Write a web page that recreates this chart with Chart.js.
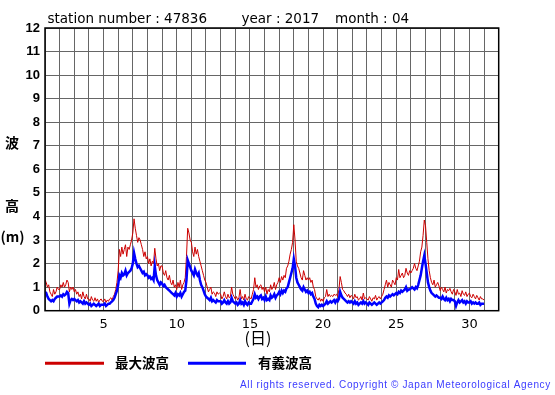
<!DOCTYPE html>
<html>
<head>
<meta charset="utf-8">
<script src="https://cdn.jsdelivr.net/npm/chart.js@4.4.1/dist/chart.umd.min.js"></script>
<style>
html,body{margin:0;padding:0;background:#fff;}
#wrap{width:555px;height:395px;position:relative;}
</style>
</head>
<body>
<div id="wrap"><canvas id="c" width="555" height="395"></canvas></div>
<script>
// Title pieces
const titleParts = ["station number : 47836", "year : 2017", "month : 04"];
// Legend labels
const seriesNames = ["最大波高", "有義波高"];
const yAxisTitle = ["波", "高", "(m)"];
const xAxisTitle = "(日)";
const copyright = "All rights reserved. Copyright © Japan Meteorological Agency";
// x tick labels (day of month) shown
const xTickLabels = [5, 10, 15, 20, 25, 30];
// y ticks
const yTickValues = [0,1,2,3,4,5,6,7,8,9,10,11,12];
// samples per day (2-hourly readings), starting day 1 00h
const samplesPerDay = 12;

// Maximum wave height (m), 2-hourly
const maxWaveHeight = [
 1.3,1.2,1.0,1.1,0.8,0.7,0.6,0.9,0.7,0.8,1.0,0.9,
 0.9,1.1,1.0,1.2,1.0,1.1,1.3,1.2,0.8,1.0,0.9,1.0,
 0.8,0.9,0.7,0.8,0.6,0.7,0.5,0.8,0.6,0.5,0.7,0.5,
 0.5,0.4,0.6,0.45,0.4,0.55,0.4,0.5,0.35,0.45,0.5,0.4,
 0.4,0.5,0.35,0.45,0.4,0.5,0.55,0.45,0.6,0.7,0.9,1.2,
 1.7,2.6,2.3,2.7,2.4,2.6,2.8,2.3,2.7,2.6,2.8,3.0,
 3.3,3.9,3.5,3.2,2.9,3.1,3.0,2.8,2.6,2.3,2.5,2.2,
 2.3,2.0,2.2,1.9,2.1,2.0,2.65,2.2,1.9,2.0,1.7,1.9,
 1.9,1.6,1.5,1.7,1.4,1.3,1.5,1.2,1.1,1.3,1.0,1.1,
 0.9,1.2,1.0,1.3,0.9,1.1,1.2,1.4,2.3,3.5,3.3,3.0,
 2.9,2.5,2.3,2.7,2.4,2.6,2.3,2.1,1.9,1.7,1.5,1.3,
 1.2,1.0,0.8,0.9,1.0,0.7,0.8,0.75,0.6,0.8,0.7,0.75,
 0.7,0.5,0.6,0.8,0.6,0.5,0.7,0.55,0.6,1.0,0.7,0.6,
 0.5,0.6,0.45,0.55,0.9,0.5,0.6,0.45,0.7,0.5,0.45,0.6,
 0.55,0.5,0.7,0.9,1.4,1.0,1.1,0.9,1.05,1.1,0.9,1.0,
 0.8,1.0,0.7,0.9,0.8,1.1,0.9,1.0,1.2,0.9,1.1,1.2,
 1.4,1.2,1.45,1.3,1.5,1.4,1.8,1.9,2.1,2.4,2.6,2.9,
 3.65,3.0,2.1,1.9,1.8,1.6,1.4,1.3,1.7,1.5,1.3,1.4,
 1.3,1.4,1.2,1.3,1.0,0.9,0.6,0.5,0.45,0.55,0.4,0.5,
 0.4,0.55,0.6,0.9,0.6,0.7,0.6,0.65,0.6,0.7,0.65,0.7,
 0.6,0.9,1.45,1.2,0.9,0.85,0.75,0.7,0.6,0.7,0.55,0.65,
 0.6,0.5,0.7,0.55,0.6,0.45,0.5,0.6,0.45,0.75,0.5,0.55,
 0.5,0.45,0.6,0.5,0.4,0.55,0.5,0.65,0.45,0.55,0.6,0.5,
 0.6,0.7,0.9,1.1,1.3,1.0,1.2,1.1,1.0,1.3,1.2,1.1,
 1.4,1.3,1.75,1.4,1.5,1.6,1.4,1.5,1.8,1.6,1.5,1.7,
 1.6,1.7,1.8,2.0,1.8,1.7,1.9,2.1,2.5,2.7,3.2,3.85,
 3.6,2.9,2.2,1.7,1.4,1.2,1.1,1.3,1.0,1.1,1.2,1.05,
 0.85,1.0,0.9,0.8,1.0,0.75,0.9,0.85,0.95,0.8,0.7,0.9,
 0.8,0.65,0.9,0.7,0.75,0.6,0.85,0.7,0.65,0.8,0.6,0.7,
 0.75,0.6,0.55,0.7,0.6,0.5,0.65,0.55,0.45,0.6,0.5,0.5,
 0.45
];
// Significant wave height (m), 2-hourly
const sigWaveHeight = [
 0.8,0.75,0.6,0.5,0.45,0.4,0.45,0.4,0.5,0.55,0.6,0.6,
 0.6,0.65,0.6,0.7,0.65,0.7,0.8,0.75,0.3,0.45,0.5,0.45,
 0.5,0.45,0.4,0.45,0.35,0.4,0.35,0.3,0.4,0.3,0.35,0.3,
 0.25,0.3,0.2,0.25,0.3,0.25,0.2,0.25,0.3,0.2,0.25,0.25,
 0.25,0.3,0.2,0.25,0.3,0.3,0.35,0.4,0.45,0.55,0.7,0.85,
 1.1,1.5,1.4,1.6,1.5,1.55,1.7,1.5,1.6,1.65,1.7,1.8,
 2.0,2.45,2.2,2.0,1.85,1.9,1.8,1.7,1.6,1.65,1.5,1.55,
 1.5,1.4,1.45,1.35,1.4,1.3,1.9,1.5,1.3,1.2,1.1,1.2,
 1.15,1.05,1.1,1.0,0.95,0.9,0.85,0.8,0.75,0.7,0.65,0.75,
 0.6,0.7,0.65,0.75,0.6,0.7,0.8,0.85,1.3,2.15,2.0,1.85,
 1.7,1.6,1.5,1.75,1.6,1.5,1.6,1.3,1.1,1.0,0.85,0.7,
 0.6,0.55,0.5,0.45,0.55,0.4,0.45,0.4,0.35,0.45,0.4,0.4,
 0.4,0.3,0.35,0.45,0.35,0.3,0.4,0.3,0.35,0.55,0.4,0.35,
 0.3,0.35,0.25,0.3,0.45,0.3,0.35,0.25,0.4,0.3,0.25,0.35,
 0.3,0.3,0.4,0.5,0.7,0.55,0.6,0.5,0.6,0.65,0.5,0.55,
 0.45,0.6,0.45,0.5,0.45,0.65,0.55,0.6,0.7,0.55,0.65,0.7,
 0.8,0.7,0.85,0.75,0.85,0.8,0.95,1.0,1.2,1.4,1.6,1.8,
 2.2,1.9,1.4,1.2,1.1,1.0,0.9,0.85,1.0,0.9,0.8,0.85,
 0.75,0.8,0.7,0.75,0.6,0.5,0.3,0.2,0.15,0.25,0.2,0.25,
 0.2,0.25,0.3,0.4,0.3,0.35,0.4,0.35,0.4,0.45,0.35,0.45,
 0.4,0.5,0.8,0.65,0.55,0.5,0.45,0.4,0.35,0.4,0.35,0.4,
 0.35,0.3,0.4,0.3,0.35,0.25,0.3,0.35,0.3,0.4,0.3,0.35,
 0.3,0.25,0.35,0.3,0.25,0.3,0.35,0.3,0.25,0.3,0.35,0.3,
 0.35,0.4,0.45,0.55,0.6,0.55,0.65,0.6,0.65,0.7,0.65,0.7,
 0.75,0.7,0.8,0.75,0.85,0.8,0.85,0.9,1.0,0.85,0.9,0.9,
 0.95,1.0,0.95,0.9,1.0,0.95,1.1,1.3,1.5,1.8,2.1,2.35,
 2.0,1.6,1.2,1.0,0.85,0.75,0.7,0.65,0.6,0.65,0.6,0.55,
 0.55,0.5,0.6,0.5,0.45,0.55,0.45,0.5,0.4,0.5,0.45,0.45,
 0.4,0.2,0.35,0.45,0.35,0.4,0.45,0.35,0.4,0.3,0.4,0.35,
 0.35,0.4,0.3,0.35,0.3,0.35,0.3,0.3,0.35,0.25,0.3,0.3,
 0.3
];

const toPoints = arr => arr.map((v, i) => ({x: 1 + i / samplesPerDay, y: v}));
const RED = '#cc0000', BLUE = '#0000ff';

const decor = {
  id: 'decor',
  afterDatasetsDraw(chart) {
    const {ctx, chartArea: a} = chart;
    ctx.save();
    ctx.strokeStyle = '#000';
    ctx.lineWidth = 1.5;
    ctx.strokeRect(a.left, a.top, a.right - a.left, a.bottom - a.top);
    ctx.restore();
  },
  afterDraw(chart) {
    const {ctx} = chart;
    ctx.save();
    ctx.fillStyle = '#000';
    ctx.textBaseline = 'alphabetic';
    ctx.textAlign = 'left';
    ctx.font = '13.5px "DejaVu Sans", sans-serif';
    const tx = [47.5, 241.5, 335];
    titleParts.forEach((t, i) => ctx.fillText(t, tx[i], 22.5));
    // y-axis title
    ctx.font = 'bold 14px "Noto Sans CJK JP", sans-serif';
    ctx.textAlign = 'center';
    ctx.textBaseline = 'middle';
    ctx.fillText(yAxisTitle[0], 12, 143);
    ctx.fillText(yAxisTitle[1], 12, 206);
    ctx.fillText(yAxisTitle[2], 12.5, 237);
    // x-axis title
    ctx.font = '16px "Noto Sans CJK JP", sans-serif';
    ctx.fillText(xAxisTitle, 258, 337.5);
    // legend
    const ly = 363.3;
    ctx.lineWidth = 3;
    ctx.strokeStyle = RED;
    ctx.beginPath(); ctx.moveTo(45, ly); ctx.lineTo(104, ly); ctx.stroke();
    ctx.strokeStyle = BLUE;
    ctx.beginPath(); ctx.moveTo(188, ly); ctx.lineTo(246, ly); ctx.stroke();
    ctx.font = 'bold 13.5px "Noto Sans CJK JP", sans-serif';
    ctx.textAlign = 'left';
    ctx.fillText(seriesNames[0], 115, ly);
    ctx.fillText(seriesNames[1], 258, ly);
    // copyright
    ctx.font = '10px "Liberation Sans", Arial, sans-serif';
    ctx.fillStyle = '#3b3bff';
    const w0 = ctx.measureText(copyright).width;
    const sp = (310 - w0) / (copyright.length - 1);
    ctx.letterSpacing = sp.toFixed(2) + 'px';
    ctx.fillText(copyright, 240, 385);
    ctx.restore();
  }
};

new Chart(document.getElementById('c'), {
  type: 'line',
  data: {
    datasets: [
      {label: seriesNames[0], data: toPoints(maxWaveHeight), borderColor: RED, borderWidth: 1, pointRadius: 0, tension: 0, order: 1},
      {label: seriesNames[1], data: toPoints(sigWaveHeight), borderColor: BLUE, borderWidth: 2.5, pointRadius: 0, tension: 0, order: 0}
    ]
  },
  options: {
    responsive: false,
    animation: false,
    devicePixelRatio: 1,
    layout: {padding: {left: 0, top: 28, right: 56.3, bottom: 0}},
    plugins: {legend: {display: false}, tooltip: {enabled: false}},
    scales: {
      x: {
        type: 'linear', min: 1, max: 32,
        afterFit(s) { s.height = 84.3; },
        afterBuildTicks(s) { s.ticks = []; for (let d = 1; d <= 32; d++) s.ticks.push({value: d}); },
        grid: {color: '#666', lineWidth: 1, drawTicks: false},
        border: {display: false},
        ticks: {
          autoSkip: false, maxRotation: 0, padding: 6, color: '#000',
          font: {family: '"DejaVu Sans", sans-serif', size: 13},
          callback: v => xTickLabels.includes(v) ? String(v) : ''
        }
      },
      y: {
        min: 0, max: 12,
        afterFit(s) { s.width = 45; },
        afterBuildTicks(s) { s.ticks = yTickValues.map(v => ({value: v})); },
        grid: {color: '#666', lineWidth: 1, drawTicks: false},
        border: {display: false},
        ticks: {
          padding: 5, color: '#000',
          font: {family: '"Liberation Sans", Arial, sans-serif', size: 13, weight: 'bold'}
        }
      }
    }
  },
  plugins: [decor]
});
</script>
</body>
</html>
